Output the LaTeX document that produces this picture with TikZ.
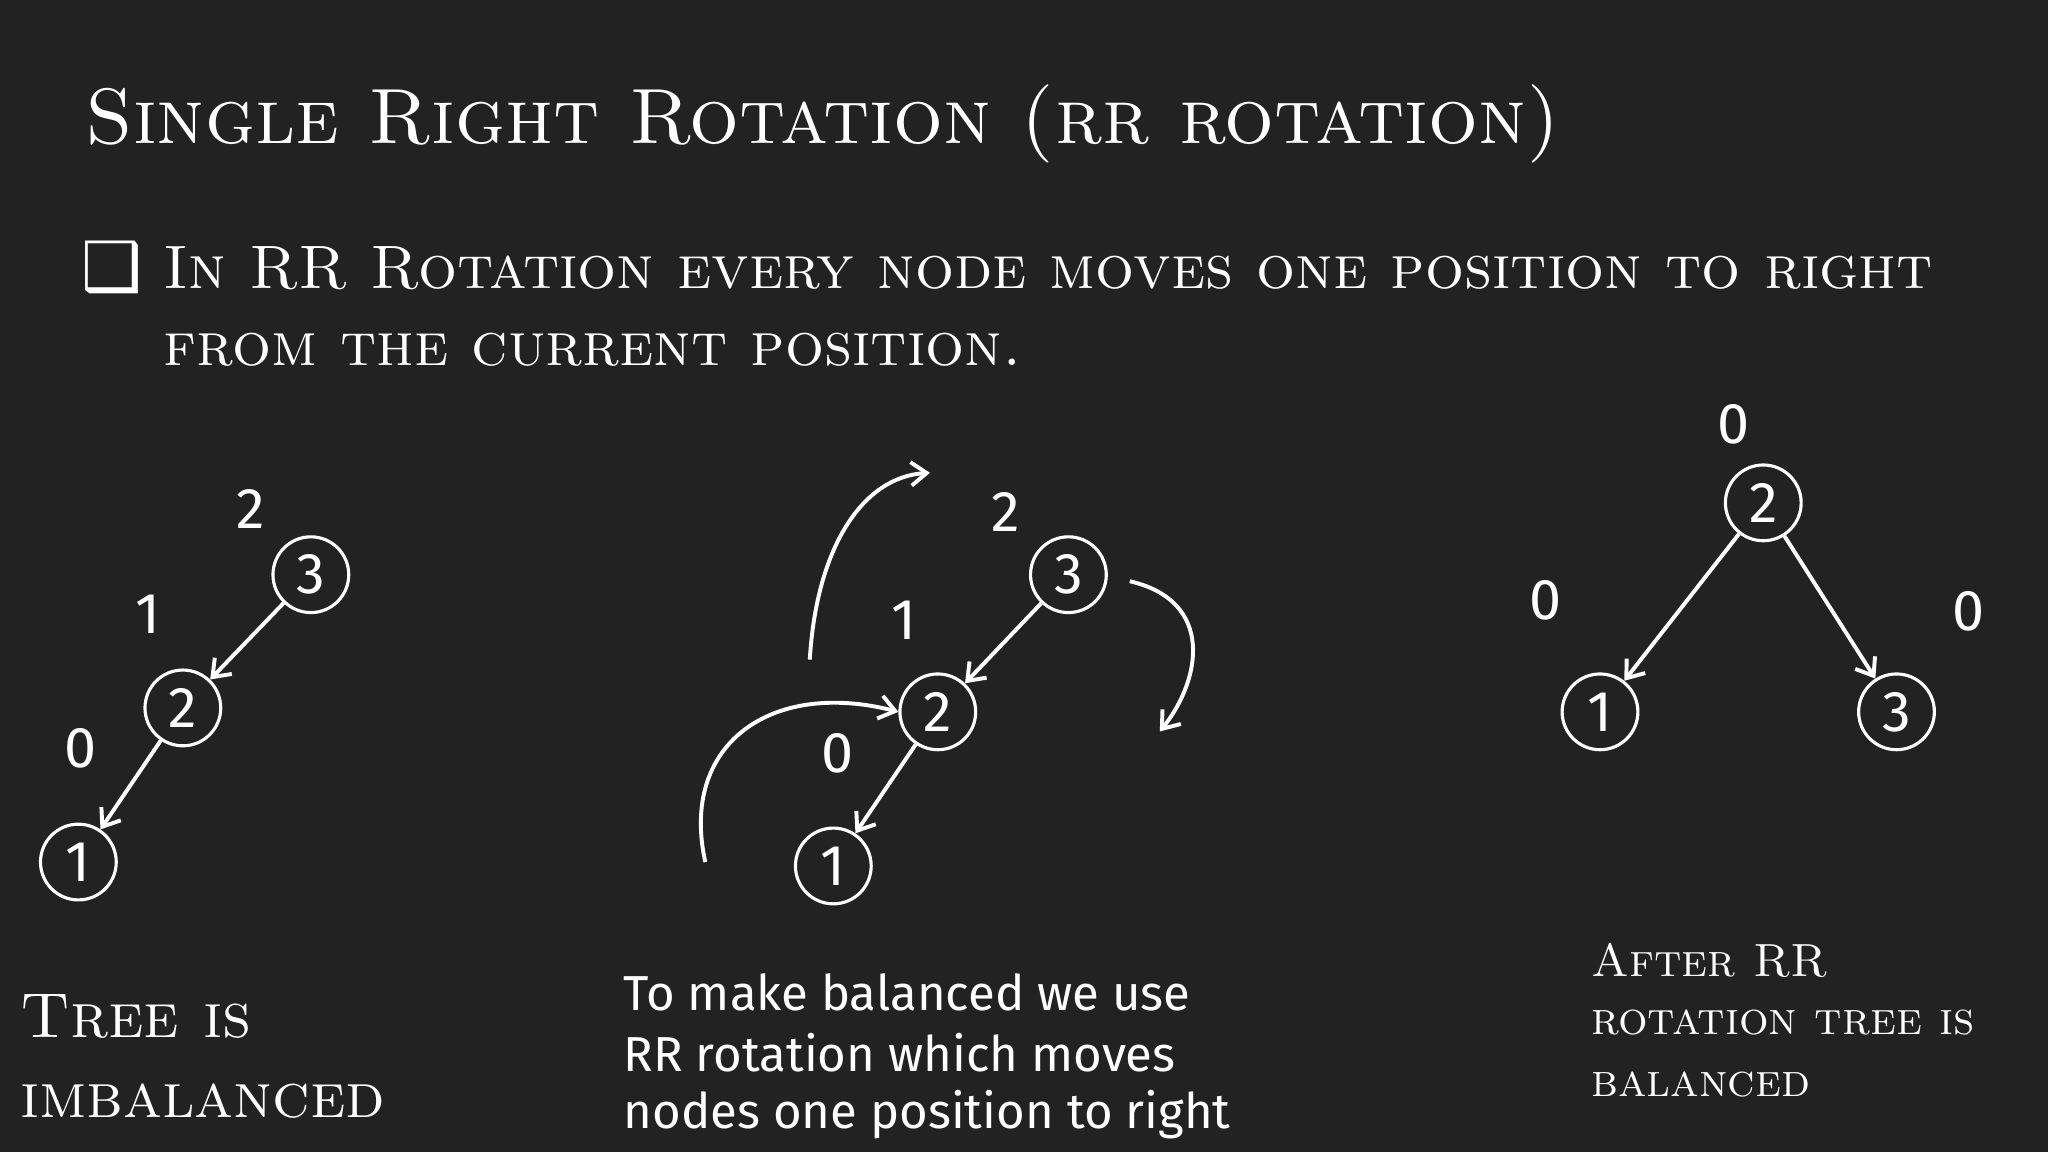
\documentclass[tikz,border=0pt]{standalone}
\usepackage{fontspec}
\newfontfamily\sansf{Fira Sans}
\newfontfamily\symf{DejaVu Sans}
\usetikzlibrary{arrows.meta}
\begin{document}
\begin{tikzpicture}[x=0.5pt,y=-0.5pt,
  txt/.style={text=white,anchor=west,inner sep=0},
  tn/.style={circle,draw=white,line width=1.2pt,minimum size=29pt,inner sep=0,text=white,font=\fontsize{22}{22}\selectfont\sansf},
  bf/.style={text=white,font=\fontsize{22}{22}\selectfont\sansf},
  edge/.style={draw=white,line width=1.5pt,-{Straight Barb[length=6pt,width=9pt]}},
  curv/.style={draw=white,line width=1.5pt,-{Straight Barb[length=6pt,width=9pt]}}]
\fill[fill={rgb,255:red,34;green,34;blue,34}] (0,0) rectangle (1568,882);
\useasboundingbox (0,0) rectangle (1568,882);
\node[txt,font=\fontsize{30}{30}\selectfont\scshape] (title) at (65,95) {Single Right Rotation (rr rotation)};
\node[txt,font=\fontsize{26}{26}\selectfont\symf] (box) at (62,205) {❑};
\node[txt,font=\fontsize{23.5}{23.5}\selectfont\scshape] (b1) at (125,205) {In RR Rotation every node moves one position to right};
\node[txt,font=\fontsize{23.5}{23.5}\selectfont\scshape] (b2) at (125,268) {from the current position.};
% left tree
\node[tn] (l3) at (238,440) {3};
\node[tn] (l2) at (140,542) {2};
\node[tn] (l1) at (60,660) {1};
\node[bf] (l3b) at (192,390) {2};
\node[bf] (l2b) at (113,470) {1};
\node[bf] (l1b) at (62,573) {0};
\draw[edge] (l3) -- (l2);
\draw[edge] (l2) -- (l1);
% middle tree
\node[tn] (m3) at (818,440) {3};
\node[tn] (m2) at (718,545) {2};
\node[tn] (m1) at (638,663) {1};
\node[bf] (m3b) at (770,392) {2};
\node[bf] (m2b) at (692,475) {1};
\node[bf] (m1b) at (641,577) {0};
\draw[edge] (m3) -- (m2);
\draw[edge] (m2) -- (m1);
\coordinate (c1s) at (620,505); \coordinate (c1e) at (712,362);
\draw[curv] (c1s) .. controls (625,420) and (660,365) .. (c1e);
\coordinate (c2s) at (540,660);
\draw[curv] (c2s) .. controls (520,570) and (590,520) .. (m2.west);
\coordinate (c3s) at (865,445); \coordinate (c3e) at (888,560);
\draw[curv] (c3s) .. controls (930,460) and (920,520) .. (c3e);
% right tree
\node[tn] (r2) at (1350,385) {2};
\node[tn] (r1) at (1225,545) {1};
\node[tn] (r3) at (1452,545) {3};
\node[bf] (r2b) at (1327,325) {0};
\node[bf] (r1b) at (1183,460) {0};
\node[bf] (r3b) at (1507,468) {0};
\draw[edge] (r2) -- (r1);
\draw[edge] (r2) -- (r3);
% captions
\node[txt,font=\fontsize{24.3}{24.3}\selectfont\scshape] (t1) at (15,778) {Tree is};
\node[txt,font=\fontsize{24.3}{24.3}\selectfont\scshape] (t2) at (15,843) {imbalanced};
\node[txt,font=\fontsize{18.8}{18.8}\selectfont\sansf] (m1t) at (477,760) {To make balanced we use};
\node[txt,font=\fontsize{18.8}{18.8}\selectfont\sansf] (m2t) at (477,806) {RR rotation which moves};
\node[txt,font=\fontsize{18.8}{18.8}\selectfont\sansf] (m3t) at (477,853) {nodes one position to right};
\node[txt,font=\fontsize{17.8}{17.8}\selectfont\scshape] (r1t) at (1218,735) {After RR};
\node[txt,font=\fontsize{17.8}{17.8}\selectfont\scshape] (r2t) at (1218,783) {rotation tree is};
\node[txt,font=\fontsize{17.8}{17.8}\selectfont\scshape] (r3t) at (1218,830) {balanced};
\end{tikzpicture}
\end{document}
